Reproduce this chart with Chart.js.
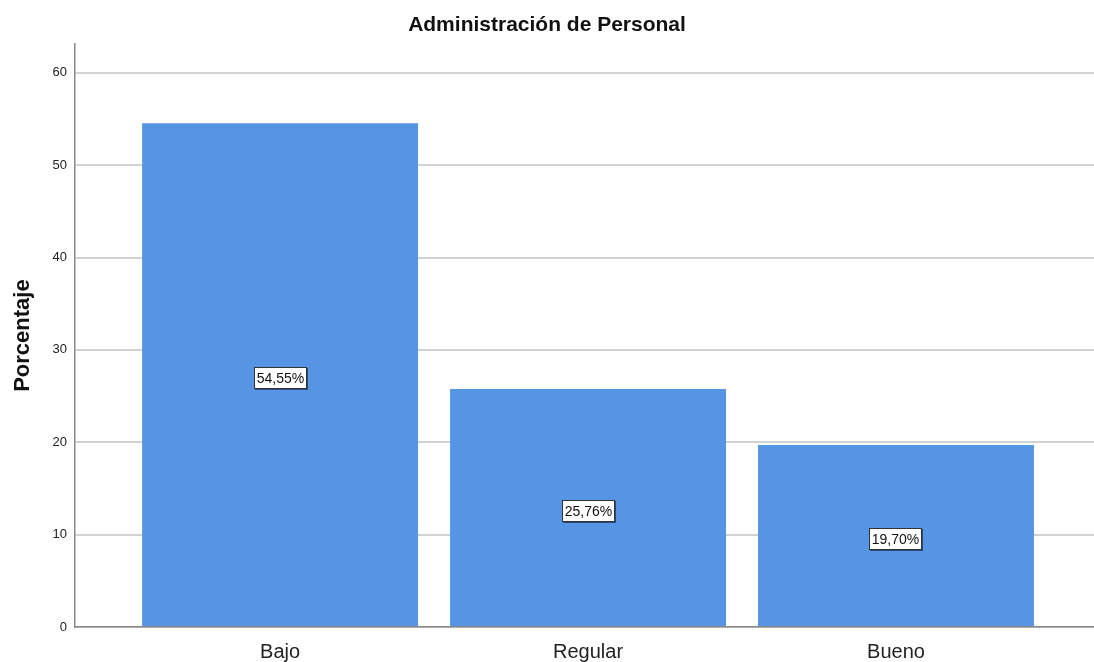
<!DOCTYPE html>
<html>
<head>
<meta charset="utf-8">
<title>Administración de Personal</title>
<script src="https://cdn.jsdelivr.net/npm/chart.js"></script>
<style>
  html, body { margin: 0; padding: 0; background: #fff; }
  #wrap { width: 1094px; height: 662px; }
</style>
</head>
<body>
<div id="wrap"><canvas id="chart" width="1094" height="662"></canvas></div>
<script>
const categories = ['Bajo', 'Regular', 'Bueno'];
const percentages = [54.55, 25.76, 19.70];
const yTicks = [0, 10, 20, 30, 40, 50, 60];

const font = "'Liberation Sans', Arial, sans-serif";

// draws the "54,55%" boxes in the middle of each bar
const barLabels = {
  id: 'barLabels',
  afterDatasetsDraw(chart) {
    const ctx = chart.ctx;
    const meta = chart.getDatasetMeta(0);
    ctx.save();
    ctx.font = '14px ' + font;
    ctx.textAlign = 'center';
    ctx.textBaseline = 'middle';
    meta.data.forEach((bar, i) => {
      const text = percentages[i].toFixed(2).replace('.', ',') + '%';
      const w = Math.round(ctx.measureText(text).width + 6);
      const h = 22;
      const x0 = Math.round(bar.x - w / 2);
      const y0 = Math.round((bar.y + bar.base) / 2 + 3 - h / 2);
      // small shadow at bottom/right
      ctx.fillStyle = '#2a4a78';
      ctx.fillRect(x0 + 1, y0 + 1, w, h);
      ctx.fillStyle = '#fff';
      ctx.fillRect(x0, y0, w, h);
      ctx.strokeStyle = '#333';
      ctx.lineWidth = 1;
      ctx.strokeRect(x0 + 0.5, y0 + 0.5, w - 1, h - 1);
      ctx.fillStyle = '#111';
      ctx.fillText(text, x0 + w / 2, y0 + h / 2 + 1);
    });
    ctx.restore();
  }
};

new Chart(document.getElementById('chart'), {
  type: 'bar',
  data: {
    datasets: [{
      data: percentages.map((v, i) => ({ x: i, y: v })),
      backgroundColor: '#5694e4',
      borderWidth: 0,
      barPercentage: 0.896,
      categoryPercentage: 1
    }]
  },
  options: {
    responsive: false,
    animation: false,
    layout: { padding: 0 },
    plugins: {
      legend: { display: false },
      tooltip: { enabled: false },
      title: {
        display: true,
        text: 'Administración de Personal',
        color: '#111',
        font: { family: font, size: 21, weight: 'bold' },
        padding: { top: 13, bottom: 6 }
      }
    },
    scales: {
      x: {
        type: 'linear',
        offset: false,
        min: -0.666,
        max: 2.643,
        grid: { display: false },
        border: { color: '#888', width: 1.5 },
        afterBuildTicks: s => { s.ticks = categories.map((c, i) => ({ value: i })); },
        afterFit: s => { s.height = 35; },
        ticks: {
          padding: 5,
          color: '#222',
          font: { family: font, size: 20 },
          callback: v => categories[v]
        }
      },
      y: {
        min: 0,
        max: 63.1,
        afterBuildTicks: s => { s.ticks = yTicks.map(v => ({ value: v })); },
        afterFit: s => { s.width = 75; },
        border: { color: '#888', width: 1.5 },
        grid: { color: '#d2d2d2', lineWidth: 2, drawTicks: false },
        ticks: {
          padding: 8,
          color: '#222',
          font: { family: font, size: 13 }
        },
        title: {
          display: true,
          text: 'Porcentaje',
          color: '#111',
          font: { family: font, size: 22, weight: 'bold' },
          padding: { top: 10, bottom: 0 }
        }
      }
    }
  },
  plugins: [barLabels]
});
</script>
</body>
</html>
